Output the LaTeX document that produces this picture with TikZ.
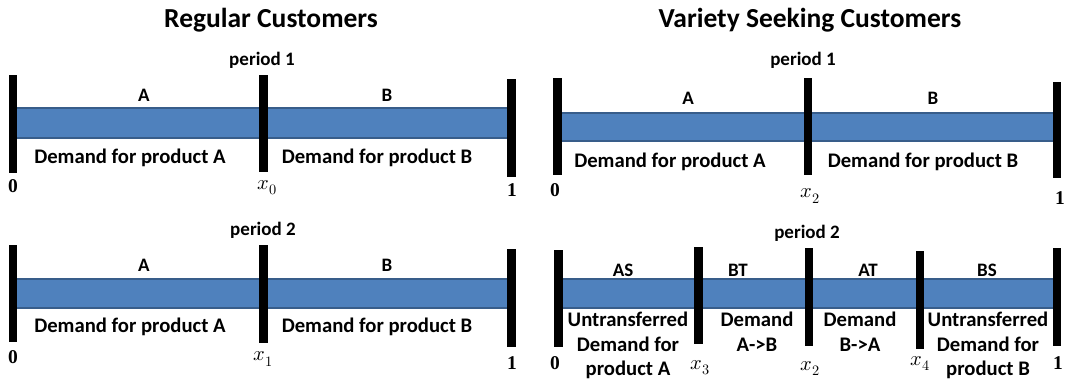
\documentclass[tikz,border=0pt]{standalone}
\usepackage{fontspec}
\usepackage{unicode-math}
\setmainfont{Carlito}
\setmathfont{Latin Modern Math}
\newfontfamily\numfont{Liberation Serif}
\definecolor{bandfill}{RGB}{79,129,189}
\definecolor{bandline}{RGB}{56,93,138}
\begin{document}
\begin{tikzpicture}[x=1pt,y=-1pt,
  vbar/.style={fill=black,draw=none,inner sep=0pt,minimum width=8.5pt},
  band/.style={fill=bandfill,draw=bandline,line width=1.3pt},
  ttl/.style={font=\fontsize{27.5}{32}\selectfont\bfseries,inner sep=0pt},
  per/.style={font=\fontsize{19}{23}\selectfont\bfseries,inner sep=0pt},
  lbl/.style={font=\fontsize{20.7}{24.5}\selectfont\bfseries,inner sep=0pt,align=center},
  num/.style={font=\fontsize{19.5}{24}\selectfont\numfont\bfseries,inner sep=0pt},
  mx/.style={font=\fontsize{20.5}{24}\selectfont,inner sep=0pt}]
\useasboundingbox (0,0) rectangle (1078,387);
% titles
\node[ttl] (t1) at (271,20) {Regular Customers};
\node[ttl] (t2) at (810,20) {Variety Seeking Customers};
% ---- Left period 1
\node[per] (p1l) at (262,60) {period 1};
\filldraw[band] (13,108) rectangle (511,138);
\node[vbar,minimum height=98pt] (l1a) at (13,124) {};
\node[vbar,minimum height=97pt] (l1b) at (263.5,123.5) {};
\node[vbar,minimum height=98pt] (l1c) at (511.5,128) {};
\node[per] at (144,95) {A};
\node[per] at (387,95) {B};
\node[lbl] at (130,158) {Demand for product A};
\node[lbl] at (377,158) {Demand for product B};
\node[num] at (13,186) {0};
\node[mx] at (267,188) {$x_0$};
\node[num] at (512,190) {1};
% ---- Left period 2
\node[per] (p2l) at (263,230) {period 2};
\filldraw[band] (13,279) rectangle (511,308);
\node[vbar,minimum height=97pt] (l2a) at (13,293.5) {};
\node[vbar,minimum height=98pt] (l2b) at (263.5,294) {};
\node[vbar,minimum height=98pt] (l2c) at (511.5,298) {};
\node[per] at (144,265) {A};
\node[per] at (387,265) {B};
\node[lbl] at (130,327) {Demand for product A};
\node[lbl] at (377,327) {Demand for product B};
\node[num] at (13,357) {0};
\node[mx] at (263,359) {$x_1$};
\node[num] at (512,363) {1};
% ---- Right period 1
\node[per] (p1r) at (803,60) {period 1};
\filldraw[band] (557,113) rectangle (1057,141);
\node[vbar,minimum height=97pt] (r1a) at (557.5,126.5) {};
\node[vbar,minimum height=97pt] (r1b) at (808,126.5) {};
\node[vbar,minimum height=96pt] (r1c) at (1057,130) {};
\node[per] at (688,98) {A};
\node[per] at (933,98) {B};
\node[lbl] at (670,162) {Demand for product A};
\node[lbl] at (923,162) {Demand for product B};
\node[num] at (555,190) {0};
\node[mx] at (810,196) {$x_2$};
\node[num] at (1060,198) {1};
% ---- Right period 2
\node[per] (p2r) at (807,233) {period 2};
\filldraw[band] (558,279) rectangle (1057,308);
\node[vbar,minimum height=97pt] (r2a) at (558.5,298.5) {};
\node[vbar,minimum height=97pt] (r2b) at (698.5,295.5) {};
\node[vbar,minimum height=98pt] (r2c) at (809,297) {};
\node[vbar,minimum height=98pt] (r2d) at (920,300) {};
\node[vbar,minimum height=98pt] (r2e) at (1057,297) {};
\node[per] at (623,270) {AS};
\node[per] at (738,270) {BT};
\node[per] at (868,270) {AT};
\node[per] at (987,270) {BS};
\node[lbl,anchor=north] at (628,312) {Untransferred\\Demand for\\product A};
\node[lbl,anchor=north] at (757,312) {Demand\\A->B};
\node[lbl,anchor=north] at (860,312) {Demand\\B->A};
\node[lbl,anchor=north] at (988,312) {Untransferred\\Demand for\\product B};
\node[num] at (555,363) {0};
\node[mx] at (700,368) {$x_3$};
\node[mx] at (810,368) {$x_2$};
\node[mx] at (920,363) {$x_4$};
\node[num] at (1058,363) {1};
\end{tikzpicture}
\end{document}
